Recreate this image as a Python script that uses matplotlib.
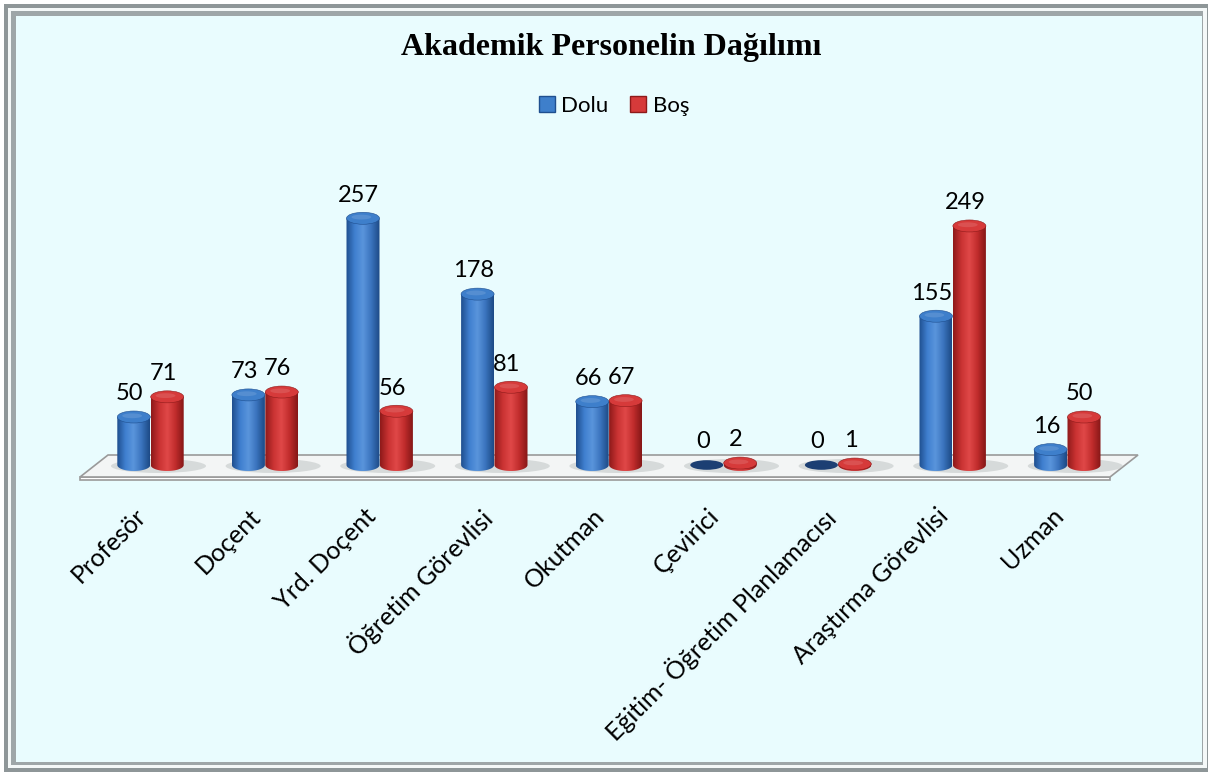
import numpy as np
import matplotlib.pyplot as plt
from matplotlib.patches import Ellipse, PathPatch, Polygon, Rectangle
from matplotlib.path import Path
from matplotlib.lines import Line2D
from matplotlib.colors import LinearSegmentedColormap

# veriler
kategoriler = ["Profesör", "Doçent", "Yrd. Doçent", "Öğretim Görevlisi", "Okutman",
               "Çevirici", "Eğitim- Öğretim Planlamacısı", "Araştırma Görevlisi", "Uzman"]
dolu = [50, 73, 257, 178, 66, 0, 0, 155, 16]
bos = [71, 76, 56, 81, 67, 2, 1, 249, 50]
seriler = ["Dolu", "Boş"]

plt.rcParams['font.family'] = ['Lato', 'DejaVu Sans']

W, H = 1212, 776
fig = plt.figure(figsize=(W / 100, H / 100), dpi=100)
fig.patch.set_facecolor('white')

# cerceve
fig.patches.append(Rectangle((4 / W, 4 / H), 1 - 8 / W, 1 - 8 / H, transform=fig.transFigure,
                             facecolor='#8e9698', edgecolor='none', zorder=-5))
fig.patches.append(Rectangle((8 / W, 8 / H), 1 - 13 / W, 1 - 16 / H, transform=fig.transFigure,
                             facecolor='#f4f8f8', edgecolor='none', zorder=-4))
fig.patches.append(Rectangle((11 / W, 11 / H), 1 - 20 / W, 1 - 22 / H, transform=fig.transFigure,
                             facecolor='#9ea6a8', edgecolor='none', zorder=-3))
fig.patches.append(Rectangle((16 / W, 14 / H), 1 - 26 / W, 1 - 30 / H, transform=fig.transFigure,
                             facecolor='#e9fcfe', edgecolor='none', zorder=-2))

# eksen: x grup merkezleri 114.6 px aralik, y 0.96 px / birim
px_x = 114.6
px_y = 0.96
x0_px = 150.5
base_px = 465
left_px = x0_px - 0.5 * px_x
right_px = x0_px + 8.5 * px_x
top_px, bot_px = 200, 485
ax = fig.add_axes([left_px / W, 1 - bot_px / H, (right_px - left_px) / W, (bot_px - top_px) / H])
ax.set_xlim(-0.5, 8.5)
ax.set_ylim(-(bot_px - base_px) / px_y, (base_px - top_px) / px_y)
ax.axis('off')

def dx(p):
    return p / px_x

def dy(p):
    return p / px_y

# zemin
back_y, front_y, slab = dy(base_px - 455), -dy(477 - base_px), dy(3)
xl_f, xl_b = dx(80 - x0_px), dx(108 - x0_px)
xr_f, xr_b = dx(1110 - x0_px), dx(1138 - x0_px)
ax.add_patch(Polygon([(xl_f, front_y - slab), (xr_f, front_y - slab), (xr_f, front_y), (xl_f, front_y)],
                     closed=True, facecolor='white', edgecolor='#9a9a9a', lw=1.2, zorder=1, clip_on=False))
ax.add_patch(Polygon([(xl_f, front_y), (xr_f, front_y), (xr_b, back_y), (xl_b, back_y)],
                     closed=True, facecolor='#f3f5f5', edgecolor='#9a9a9a', lw=1.2, zorder=1, clip_on=False))
# golge
for i in range(len(kategoriler)):
    ax.add_patch(Ellipse((i + dx(8), -dy(1)), dx(95), dy(14), facecolor='#bfc4c4',
                         edgecolor='none', alpha=0.55, zorder=1.5, clip_on=False))

bw = dx(33)
eh = dy(12)
renkler = {
    "Dolu": (['#1f4f8f', '#3f7fcf', '#5a95dc', '#3a73bd', '#1d4a86'], '#3e7fcb', '#1c3f73'),
    "Boş": (['#8e1a1a', '#c93232', '#e04848', '#c02c2c', '#861717'], '#d63a3a', '#a51f1f'),
}

def silindir(xc, h, seri):
    govde, ust, sifir = renkler[seri]
    x0, x1 = xc - bw / 2, xc + bw / 2
    if h <= 0:
        ax.add_patch(Ellipse((xc, 0), bw, eh * 0.8, facecolor=sifir, edgecolor='none', zorder=3))
        return
    t = np.linspace(np.pi, 2 * np.pi, 40)
    arc = np.column_stack([xc + bw / 2 * np.cos(t), eh / 2 * np.sin(t)])
    verts = np.vstack([[(x0, h)], arc, [(x1, h)], [(x0, h)]])
    codes = [Path.MOVETO] + [Path.LINETO] * (len(verts) - 2) + [Path.CLOSEPOLY]
    clip = PathPatch(Path(verts, codes), facecolor='none', edgecolor='none')
    ax.add_patch(clip)
    cmap = LinearSegmentedColormap.from_list('g', govde)
    im = ax.imshow(np.linspace(0, 1, 64)[None, :], cmap=cmap, aspect='auto',
                   extent=[x0, x1, -eh / 2, h], zorder=3, interpolation='bilinear')
    im.set_clip_path(clip)
    ax.add_patch(Ellipse((xc, h), bw, eh, facecolor=ust, edgecolor=govde[0], lw=0.4, zorder=4))
    ax.add_patch(Ellipse((xc - bw * 0.05, h + eh * 0.1), bw * 0.6, eh * 0.4, facecolor='white',
                         edgecolor='none', alpha=0.12, zorder=4))

off = dx(16.7)
x = np.arange(len(kategoriler))
for i in x:
    for seri, vals, s in (("Dolu", dolu, -1), ("Boş", bos, 1)):
        xc = i + s * off
        silindir(xc, vals[i], seri)
        ax.annotate(str(vals[i]), (xc, vals[i]), xytext=(-3, 12), textcoords='offset points',
                    ha='center', va='baseline', fontsize=17, color='black', zorder=6,
                    annotation_clip=False)

for i, k in enumerate(kategoriler):
    ax.text(i - dx(16), -dy(504 - base_px), k, rotation=45, rotation_mode='anchor',
            ha='right', va='top', fontsize=18, color='black', clip_on=False)

fig.text(611 / W, 1 - 47 / H, "Akademik Personelin Dağılımı", ha='center', va='center',
         fontsize=23, fontweight='bold', family='Liberation Serif')

handles = [Line2D([], [], marker='s', ls='none', markersize=11, markerfacecolor=renkler[s][1],
                  markeredgecolor=renkler[s][0][0]) for s in seriler]
fig.legend(handles, seriler, loc='center', bbox_to_anchor=(614 / W, 1 - 106 / H), ncol=2,
           frameon=False, fontsize=16, handlelength=0.7, handletextpad=0.3, columnspacing=1.0)

fig.savefig('out.png', dpi=100)
